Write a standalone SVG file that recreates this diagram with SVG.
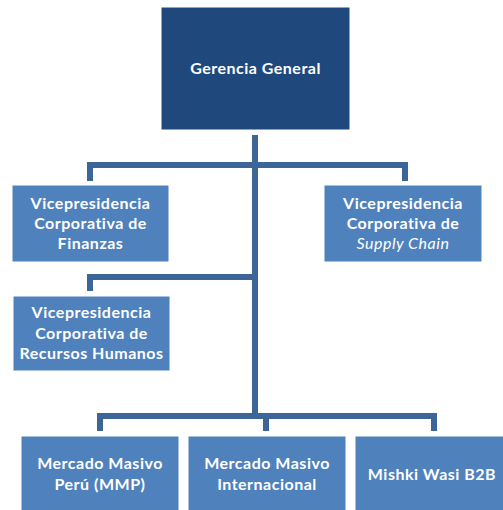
<svg xmlns="http://www.w3.org/2000/svg" width="503" height="510" viewBox="0 0 503 510">
<style>
.box{fill:#4F81BD;stroke:#ffffff;stroke-width:1}
.top{fill:#1F497D;stroke:#ffffff;stroke-width:1}
.t{font-family:Lato,"Open Sans","Liberation Sans",sans-serif;font-weight:bold;font-size:16px;fill:#ffffff;text-anchor:middle;letter-spacing:0.5px}
.conn{fill:none;stroke:#3C6698;stroke-width:6;stroke-linejoin:miter}
</style>
<rect width="503" height="510" fill="#ffffff"/>
<g id="connectors">
<path class="conn" d="M255 135 V416"/>
<path class="conn" d="M90 181 V165 H405 V181"/>
<path class="conn" d="M90 291 V277 H255"/>
<path class="conn" d="M100 431 V416 H434 V431"/>
<path class="conn" d="M266 416 V431"/>
</g>
<g id="gerencia">
<rect class="top" x="161" y="7" width="189" height="123"/>
<text class="t" x="255.5" y="74" letter-spacing="0.2">Gerencia General</text>
</g>
<g id="finanzas">
<rect class="box" x="12" y="185" width="157" height="77"/>
<text class="t" x="90.5" y="209">Vicepresidencia</text>
<text class="t" x="90.5" y="229">Corporativa de</text>
<text class="t" x="90.5" y="249">Finanzas</text>
</g>
<g id="supply">
<rect class="box" x="324" y="185" width="158" height="77"/>
<text class="t" x="403" y="209">Vicepresidencia</text>
<text class="t" x="403" y="229">Corporativa de</text>
<text class="t" x="403" y="249"><tspan font-style="italic" font-weight="normal">Supply Chain</tspan></text>
</g>
<g id="rrhh">
<rect class="box" x="13" y="296" width="157" height="75"/>
<text class="t" x="91.5" y="318">Vicepresidencia</text>
<text class="t" x="91.5" y="339">Corporativa de</text>
<text class="t" x="91.5" y="359">Recursos Humanos</text>
</g>
<g id="mmp">
<rect class="box" x="21" y="436" width="158" height="80"/>
<text class="t" x="100" y="469">Mercado Masivo</text>
<text class="t" x="100" y="490">Perú (MMP)</text>
</g>
<g id="mmi">
<rect class="box" x="188" y="436" width="158" height="80"/>
<text class="t" x="267" y="469">Mercado Masivo</text>
<text class="t" x="267" y="490">Internacional</text>
</g>
<g id="mishki">
<rect class="box" x="355" y="436" width="158" height="80"/>
<text class="t" x="432" y="480">Mishki Wasi B2B</text>
</g>
</svg>
